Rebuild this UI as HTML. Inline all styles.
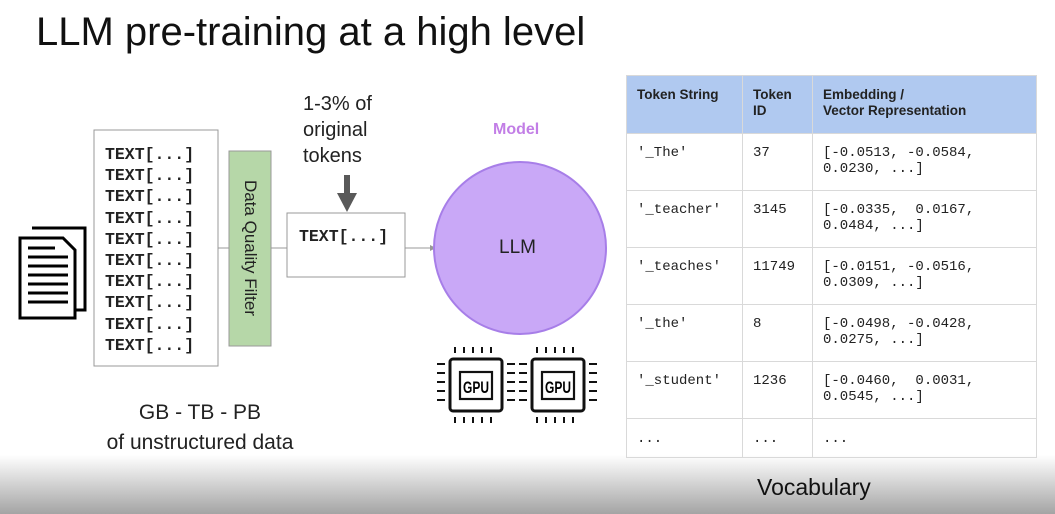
<!DOCTYPE html>
<html><head><style>
body{margin:0;width:1055px;height:514px;position:relative;overflow:hidden;background:#fff;font-family:"Liberation Sans",sans-serif}
.a{position:absolute}
.mono{font-family:"Liberation Mono",monospace}
table{border-collapse:collapse;position:absolute;left:626px;top:75px;width:411px;table-layout:fixed}
td,th{border:1px solid #d9d9d9;vertical-align:top;padding:11px 10px;font-size:12px;text-align:left;overflow:hidden;white-space:nowrap}
th{background:#b0c9f0;font-weight:bold;font-size:13.5px;height:35px;color:#222;line-height:16px}
td{height:34px;font-family:"Liberation Mono",monospace;font-size:14px;line-height:16px;color:#222}
</style></head><body>
<div class="a" style="left:0;top:455px;width:1055px;height:59px;background:linear-gradient(#fff,#a4a4a4)"></div>
<div class="a" style="left:36px;top:10px;font-size:40px;color:#111">LLM pre-training at a high level</div>
<svg class="a" style="left:0;top:0" width="1055" height="514">
<g fill="#fff" stroke="#000" stroke-width="3">
<path d="M32 228 H85 V310 H73"/>
<path d="M20 238 H63 L75 250 V318 H20 Z"/>
</g>
<g stroke="#000" stroke-width="3">
<line x1="28" y1="248" x2="55" y2="248"/><line x1="28" y1="257" x2="68" y2="257"/><line x1="28" y1="266" x2="68" y2="266"/><line x1="28" y1="275" x2="68" y2="275"/><line x1="28" y1="284" x2="68" y2="284"/><line x1="28" y1="293" x2="68" y2="293"/><line x1="28" y1="302" x2="68" y2="302"/>
</g>
<rect x="94" y="130" width="124" height="236" fill="#fff" stroke="#999"/>
<line x1="218" y1="248" x2="229" y2="248" stroke="#999"/>
<rect x="229" y="151" width="42" height="195" fill="#b6d7a8" stroke="#999"/>
<line x1="271" y1="248" x2="287" y2="248" stroke="#999"/>
<rect x="287" y="213" width="118" height="64" fill="#fff" stroke="#999"/>
<line x1="405" y1="248" x2="430" y2="248" stroke="#999"/>
<path d="M430 245 L436 248 L430 251Z" fill="#999"/>
<rect x="344" y="175" width="6" height="20" fill="#595959"/>
<path d="M337 193 H357 L347 212 Z" fill="#595959"/>
<circle cx="520" cy="248" r="86" fill="#c9a8f7" stroke="#a77ee8" stroke-width="2"/>
<g stroke="#111" stroke-width="3" fill="none">
<rect x="450" y="359" width="52" height="52" rx="3"/><rect x="532" y="359" width="52" height="52" rx="3"/>
<rect x="460" y="372" width="32" height="27" stroke-width="2.2"/><rect x="542" y="372" width="32" height="27" stroke-width="2.2"/>
</g>
<g stroke="#111" stroke-width="2">
<path d="M455 347v6M464 347v6M473 347v6M482 347v6M491 347v6 M455 417v6M464 417v6M473 417v6M482 417v6M491 417v6"/>
<path d="M537 347v6M546 347v6M555 347v6M564 347v6M573 347v6 M537 417v6M546 417v6M555 417v6M564 417v6M573 417v6"/>
<path d="M437 364h8M437 373h8M437 382h8M437 391h8M437 400h8"/>
<path d="M507 364h8M507 373h8M507 382h8M507 391h8M507 400h8"/>
<path d="M519 364h8M519 373h8M519 382h8M519 391h8M519 400h8"/>
<path d="M589 364h8M589 373h8M589 382h8M589 391h8M589 400h8"/>
</g>
<text x="476" y="393" font-family="Liberation Sans" font-weight="bold" font-size="17" text-anchor="middle" textLength="26" lengthAdjust="spacingAndGlyphs">GPU</text>
<text x="558" y="393" font-family="Liberation Sans" font-weight="bold" font-size="17" text-anchor="middle" textLength="26" lengthAdjust="spacingAndGlyphs">GPU</text>
</svg>
<div class="a mono" style="left:105px;top:144px;font-size:16.5px;font-weight:bold;line-height:21.2px;color:#222">TEXT[...]<br>TEXT[...]<br>TEXT[...]<br>TEXT[...]<br>TEXT[...]<br>TEXT[...]<br>TEXT[...]<br>TEXT[...]<br>TEXT[...]<br>TEXT[...]</div>
<div class="a" style="left:250px;top:248px;transform:translate(-50%,-50%) rotate(90deg);font-size:17px;white-space:nowrap;color:#222">Data Quality Filter</div>
<div class="a mono" style="left:299px;top:227px;font-size:16.5px;font-weight:bold;color:#222">TEXT[...]</div>
<div class="a" style="left:303px;top:91px;font-size:20px;line-height:26px;color:#222">1-3% of<br>original<br>tokens</div>
<div class="a" style="left:493px;top:121px;font-size:16px;font-weight:bold;color:#c27ee6">Model</div>
<div class="a" style="left:499px;top:237px;font-size:19px;color:#222">LLM</div>
<div class="a" style="left:80px;top:398px;width:240px;text-align:center;font-size:21px;line-height:30px;color:#222">GB - TB - PB<br>of unstructured data</div>
<table>
<colgroup><col style="width:116px"><col style="width:70px"><col></colgroup>
<tr><th>Token String</th><th>Token<br>ID</th><th>Embedding /<br>Vector Representation</th></tr>
<tr><td>'_The'</td><td>37</td><td>[-0.0513, -0.0584,<br>0.0230, ...]</td></tr>
<tr><td>'_teacher'</td><td>3145</td><td>[-0.0335,&nbsp; 0.0167,<br>0.0484, ...]</td></tr>
<tr><td>'_teaches'</td><td>11749</td><td>[-0.0151, -0.0516,<br>0.0309, ...]</td></tr>
<tr><td>'_the'</td><td>8</td><td>[-0.0498, -0.0428,<br>0.0275, ...]</td></tr>
<tr><td>'_student'</td><td>1236</td><td>[-0.0460,&nbsp; 0.0031,<br>0.0545, ...]</td></tr>
<tr><td style="height:16px;padding:12px 10px 10px">...</td><td style="height:16px;padding:12px 10px 10px">...</td><td style="height:16px;padding:12px 10px 10px">...</td></tr>
</table>
<div class="a" style="left:757px;top:474px;font-size:23px;color:#111">Vocabulary</div>
</body></html>
